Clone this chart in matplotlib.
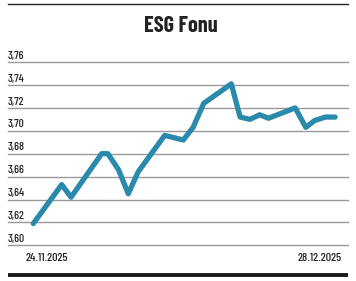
import matplotlib
matplotlib.use("Agg")
import matplotlib.pyplot as plt
from matplotlib.lines import Line2D

# days since 24.11.2025 and fund price
days = [0, 3.2, 4.25, 7.7, 8.4, 9.6, 10.7, 11.8, 14.8, 16.9, 18.0,
        19.2, 22.3, 23.3, 24.4, 25.5, 26.5, 29.5, 30.7, 31.7, 32.9, 34.0]
price = [3.619, 3.653, 3.642, 3.680, 3.680, 3.666, 3.645, 3.664, 3.696,
         3.692, 3.703, 3.724, 3.741, 3.712, 3.710, 3.714, 3.711, 3.720,
         3.703, 3.709, 3.712, 3.712]
yticks = [3.60, 3.62, 3.64, 3.66, 3.68, 3.70, 3.72, 3.74, 3.76]
ylabels = ["3,60", "3,62", "3,64", "3,66", "3,68", "3,70", "3,72", "3,74", "3,76"]
date_labels = ["24.11.2025", "28.12.2025"]
title = "ESG Fonu"

plt.rcParams["font.family"] = ["Barlow Condensed", "Roboto Condensed", "DejaVu Sans"]

fig = plt.figure(figsize=(3.56, 2.81), dpi=100)
ax = fig.add_axes([0.0225, 0.127, 0.955, 0.652])

ax.plot(days, price, color="#2a8aab", lw=3.8, solid_joinstyle="round",
        solid_capstyle="round", zorder=3)
ax.set_xlim(-2.85, 35.45)
ax.set_ylim(3.60, 3.76)

for v, lab in zip(yticks, ylabels):
    ax.axhline(v, color="#9a9a9a", lw=1.0, zorder=1, clip_on=False)
    ax.annotate(lab, (0, v), xycoords=("axes fraction", "data"),
                xytext=(0, 1.0), textcoords="offset points",
                ha="left", va="bottom", fontsize=8.4, fontweight="medium",
                color="#222222")

for sp in ax.spines.values():
    sp.set_visible(False)
ax.set_xticks([])
ax.set_yticks([])
ax.patch.set_alpha(0)

fig.text(0.131, 0.081, date_labels[0], ha="center", va="center",
         fontsize=8.8, fontweight="medium", color="#222222")
fig.text(0.899, 0.081, date_labels[1], ha="center", va="center",
         fontsize=8.8, fontweight="medium", color="#222222")
fig.text(0.508, 0.908, title, ha="center", va="center",
         fontsize=16, fontweight="bold", color="#222222")

fig.add_artist(Line2D([0.0225, 0.9775], [0.986, 0.986], color="#222222", lw=1.0))
fig.add_artist(Line2D([0.0225, 0.9775], [0.0214, 0.0214], color="#1a1a1a", lw=2.8,
                      solid_capstyle="butt"))

fig.savefig("out.png", dpi=100)
